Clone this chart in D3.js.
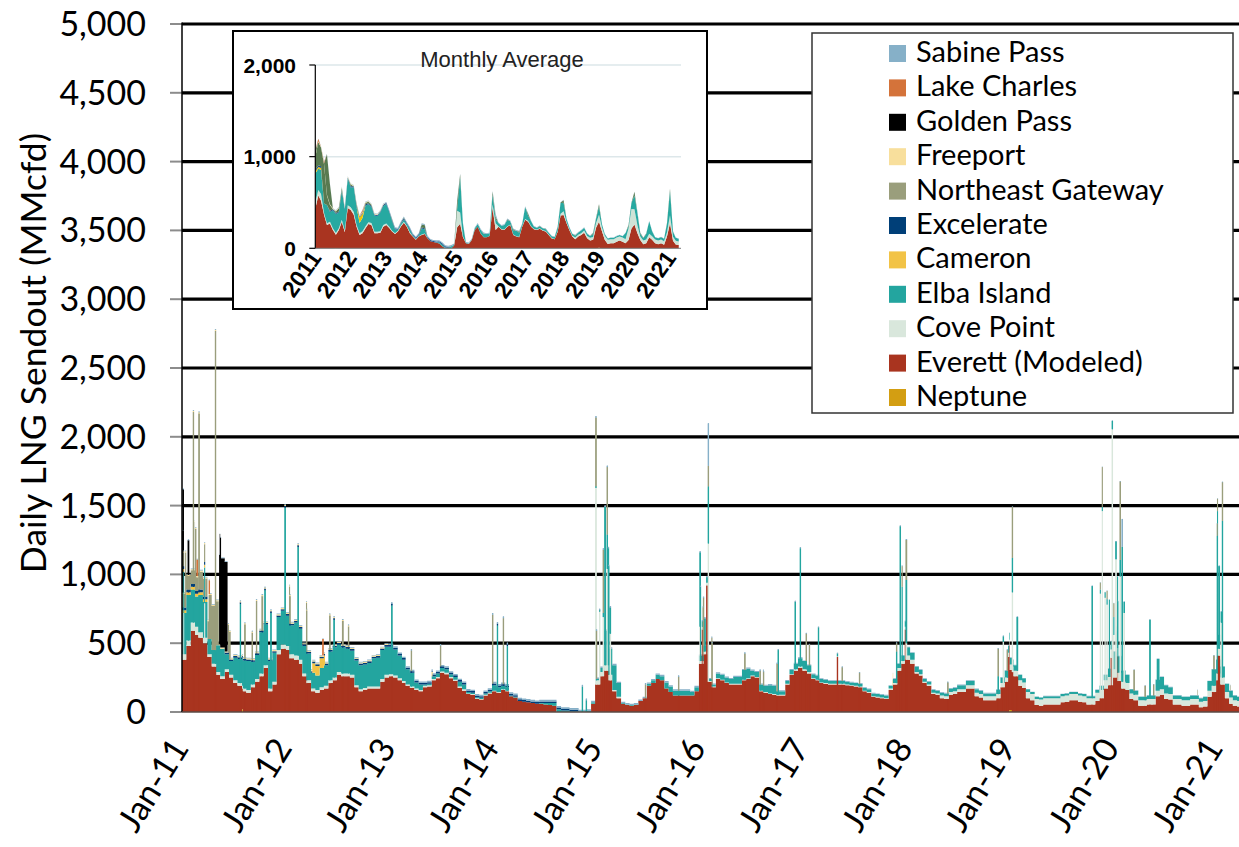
<!DOCTYPE html>
<html>
<head>
<meta charset="utf-8">
<script src="https://cdn.jsdelivr.net/npm/d3@7"></script>
<style>
  body { margin: 0; background: #fff; }
  svg { display: block; }
</style>
</head>
<body>
<svg id="chart" width="1239" height="847"></svg>
<script>
// legend order, top to bottom (stacking is the reverse)
const terminals = ['Sabine Pass', 'Lake Charles', 'Golden Pass', 'Freeport', 'Northeast Gateway',
  'Excelerate', 'Cameron', 'Elba Island', 'Cove Point', 'Everett (Modeled)', 'Neptune']
const terminalColors = ['#86b0c8', '#d4733a', '#000000', '#f8df9c', '#9a9e7c',
  '#003f78', '#f2c346', '#23a59f', '#d9e7dc', '#a9341f', '#d39e12']
const insetColors = ['#8ab4ca', '#d4733a', '#587a50', '#f7e3a3', '#587a50',
  '#1b4f8a', '#f5c400', '#27a9a1', '#cfe3d6', '#a93420', '#d39e12']

// Everett, two values per month (1st-15th, 16th-end), MMcfd
const everettHalf = [
  380,480, 590,560, 540,500, 400,330, 270,240, 290,250, 210,190, 150,140, 180,220, 260,320, 150,200, 420,460, // 2011
  450,390, 380,350, 260,210, 150,140, 160,170, 210,230, 270,260, 260,250, 180,150, 160,170, 170,170, 220,250, // 2012
  260,250, 230,210, 190,175, 160,150, 180,185, 230,245, 285,275, 245,225, 175,155, 130,125, 95,90, 120,135,   // 2013
  150,140, 160,150, 115,105, 80,75, 70,65, 60,60, 55,50, 45,0, 0,0, 0,0, 0,0, 0,60,                           // 2014
  200,260, 300,230, 150,100, 60,50, 45,50, 80,100, 190,210, 240,230, 170,145, 120,120, 120,120, 120,150,      // 2015
  350,420, 220,180, 240,230, 210,200, 200,200, 230,240, 260,250, 150,140, 130,125, 120,120, 200,270, 300,320, // 2016
  300,280, 240,230, 210,205, 200,200, 200,200, 195,190, 185,180, 150,140, 110,105, 100,95, 160,200, 300,350,  // 2017
  380,350, 280,265, 210,190, 130,125, 100,95, 125,130, 145,145, 170,170, 115,105, 85,85, 85,100, 180,220,     // 2018
  290,260, 190,175, 100,85, 50,45, 55,55, 55,55, 70,75, 85,85, 75,70, 55,55, 80,100, 170,195,                 // 2019
  250,225, 170,160, 95,85, 45,45, 55,55, 115,125, 95,90, 55,55, 45,45, 55,55, 35,40, 110,145,                 // 2020
  230,200, 100,60, 45,40, 35,35                                                                               // 2021
]

// Elba Island, two values per month
const elbaHalf = [
  300,330, 240,220, 270,260, 110,100, 195,200, 110,100, 165,175, 205,210, 165,175, 300,295, 200,210, 240,245, // 2011
  220,210, 240,225, 200,195, 115,105, 140,150, 210,220, 200,190, 180,175, 180,175, 170,172, 205,210, 210,205, // 2012
  200,190, 165,155, 110,100, 45,40, 10,10, 20,25, 25,25, 20,20, 35,35, 10,10, 8,8, 10,10,                     // 2013
  40,35, 25,25, 5,5, 0,0, 0,0, 0,5, 10,15, 20,20, 10,10, 5,5, 5,5, 8,10,                                      // 2014
  10,30, 250,190, 180,100, 5,5, 5,5, 0,0, 15,20, 30,30, 45,40, 35,35, 35,35, 25,30,                           // 2015
  40,40, 15,15, 35,35, 35,35, 50,50, 70,70, 35,35, 45,45, 60,60, 25,25, 20,30, 40,60,                         // 2016
  60,50, 30,30, 25,25, 20,20, 20,20, 20,20, 20,20, 20,20, 20,20, 20,20, 20,30, 30,40,                         // 2017
  60,50, 40,30, 20,20, 20,20, 20,20, 25,25, 30,30, 30,30, 25,25, 20,20, 20,30, 40,50,                         // 2018
  50,40, 40,30, 20,15, 15,15, 15,15, 15,15, 15,15, 15,15, 15,15, 15,15, 20,30, 40,60,                         // 2019
  130,120, 80,60, 30,30, 25,25, 25,25, 80,90, 60,50, 25,25, 25,25, 25,25, 25,30, 70,120,                      // 2020
  100,80, 60,50, 35,30, 30,30                                                                                 // 2021
]

// Cove Point, monthly
const covePointMonthly = [
  40,60,40,20,20,20,20,20,20,20,20,30,
  30,30,20,20,20,20,20,20,15,15,15,20,
  15,15,10,10,10,10,10,10,10,5,5,5,
  5,5,0,0,0,0,0,0,0,0,0,0,
  30,40,10,0,0,0,0,0,0,0,0,0,
  20,5,5,5,5,5,5,5,5,5,5,10,
  10,5,5,5,5,5,5,5,5,5,10,20,
  30,10,10,10,20,20,20,25,25,30,30,30,
  40,40,45,45,45,45,45,45,45,45,60,60,
  60,50,40,40,40,40,40,40,40,40,40,45,
  50,45,40,40
]

// Sabine Pass, monthly
const sabineMonthly = [
  5,5,5,5,5,5,5,5,5,5,5,5,
  5,5,5,5,5,5,5,5,5,5,5,5,
  10,10,10,10,10,10,10,10,10,10,10,10,
  12,12,12,12,12,12,12,12,12,12,12,12,
  10,10,10,10,10,10,10,10,10,10,10,10,
  8,8,8,8,8,8,8,8,8,8,8,8,
  5,5,5,5,5,5,5,5,5,5,5,5,
  5,5,5,5,5,5,5,5,5,5,5,5,
  3,3,3,3,3,3,3,3,3,3,3,3,
  3,3,3,3,3,3,3,3,3,3,3,3,
  3,3,3,3
]

// cargo days and short spikes: [start, terminal, MMcfd added, number of days]
const events = [
  ['2011-01-01', 'Northeast Gateway', 100, 58],
  ['2011-01-03', 'Golden Pass', 450, 3],
  ['2011-01-04', 'Cove Point', 300, 3],
  ['2011-01-12', 'Northeast Gateway', 300, 4],
  ['2011-01-22', 'Golden Pass', 250, 3],
  ['2011-01-01', 'Cameron', 20, 90],
  ['2011-01-01', 'Excelerate', 20, 90],
  ['2011-01-01', 'Freeport', 8, 730],
  ['2011-02-09', 'Northeast Gateway', 1150, 2],
  ['2011-02-15', 'Northeast Gateway', 350, 6],
  ['2011-02-21', 'Lake Charles', 120, 6],
  ['2011-03-01', 'Northeast Gateway', 1150, 2],
  ['2011-03-01', 'Northeast Gateway', 130, 35],
  ['2011-03-20', 'Cove Point', 250, 4],
  ['2011-04-05', 'Northeast Gateway', 320, 36],
  ['2011-04-05', 'Lake Charles', 100, 5],
  ['2011-04-28', 'Northeast Gateway', 2000, 2],
  ['2011-05-12', 'Golden Pass', 650, 30],
  ['2011-05-14', 'Golden Pass', 150, 5],
  ['2011-06-01', 'Excelerate', 12, 1250],
  ['2011-06-12', 'Northeast Gateway', 200, 10],
  ['2011-07-25', 'Elba Island', 400, 2],
  ['2011-08-01', 'Neptune', 20, 3],
  ['2011-08-10', 'Northeast Gateway', 250, 2],
  ['2011-09-05', 'Northeast Gateway', 200, 2],
  ['2011-09-20', 'Northeast Gateway', 380, 2],
  ['2011-10-10', 'Northeast Gateway', 250, 3],
  ['2011-10-20', 'Elba Island', 250, 2],
  ['2011-11-10', 'Elba Island', 350, 2],
  ['2011-12-30', 'Elba Island', 750, 2],
  ['2012-01-15', 'Northeast Gateway', 200, 3],
  ['2012-02-14', 'Elba Island', 550, 2],
  ['2012-03-15', 'Northeast Gateway', 300, 2],
  ['2012-04-05', 'Cameron', 70, 45],
  ['2012-05-10', 'Lake Charles', 120, 6],
  ['2012-06-05', 'Northeast Gateway', 250, 2],
  ['2012-06-20', 'Elba Island', 200, 2],
  ['2012-07-20', 'Northeast Gateway', 180, 3],
  ['2012-08-10', 'Northeast Gateway', 150, 2],
  ['2013-01-10', 'Elba Island', 300, 2],
  ['2013-03-20', 'Northeast Gateway', 150, 2],
  ['2013-06-01', 'Cameron', 30, 3],
  ['2013-07-01', 'Northeast Gateway', 150, 2],
  ['2014-01-01', 'Northeast Gateway', 500, 2],
  ['2014-01-18', 'Elba Island', 450, 2],
  ['2014-02-08', 'Northeast Gateway', 480, 2],
  ['2014-02-22', 'Elba Island', 300, 2],
  ['2014-11-14', 'Elba Island', 180, 2],
  ['2014-11-28', 'Elba Island', 80, 2],
  ['2015-01-01', 'Cove Point', 1400, 2],
  ['2015-01-01', 'Northeast Gateway', 500, 2],
  ['2015-01-03', 'Northeast Gateway', 350, 2],
  ['2015-01-14', 'Cove Point', 500, 2],
  ['2015-01-27', 'Cove Point', 400, 2],
  ['2015-01-27', 'Northeast Gateway', 460, 2],
  ['2015-02-02', 'Elba Island', 900, 3],
  ['2015-02-10', 'Cove Point', 700, 2],
  ['2015-02-10', 'Northeast Gateway', 490, 2],
  ['2015-02-14', 'Elba Island', 600, 3],
  ['2015-02-20', 'Cove Point', 300, 3],
  ['2015-06-25', 'Northeast Gateway', 100, 2],
  ['2015-10-20', 'Northeast Gateway', 100, 2],
  ['2016-01-04', 'Elba Island', 500, 3],
  ['2016-01-04', 'Cove Point', 250, 2],
  ['2016-01-12', 'Everett (Modeled)', 250, 3],
  ['2016-01-15', 'Northeast Gateway', 350, 3],
  ['2016-01-20', 'Elba Island', 200, 3],
  ['2016-01-28', 'Everett (Modeled)', 500, 2],
  ['2016-02-02', 'Cove Point', 1000, 2],
  ['2016-02-02', 'Elba Island', 400, 2],
  ['2016-02-02', 'Northeast Gateway', 150, 2],
  ['2016-02-02', 'Sabine Pass', 300, 2],
  ['2016-02-15', 'Northeast Gateway', 300, 2],
  ['2016-06-10', 'Northeast Gateway', 120, 2],
  ['2016-08-03', 'Northeast Gateway', 100, 2],
  ['2016-08-15', 'Northeast Gateway', 100, 2],
  ['2016-10-02', 'Northeast Gateway', 200, 2],
  ['2016-10-06', 'Elba Island', 300, 2],
  ['2016-12-05', 'Elba Island', 450, 2],
  ['2016-12-23', 'Elba Island', 800, 2],
  ['2017-01-13', 'Northeast Gateway', 200, 2],
  ['2017-01-24', 'Northeast Gateway', 150, 2],
  ['2017-02-25', 'Elba Island', 350, 2],
  ['2017-05-03', 'Everett (Modeled)', 200, 2],
  ['2017-05-20', 'Northeast Gateway', 100, 2],
  ['2017-07-20', 'Northeast Gateway', 80, 2],
  ['2017-11-15', 'Cameron', 40, 2],
  ['2017-11-28', 'Elba Island', 200, 2],
  ['2017-11-28', 'Northeast Gateway', 60, 2],
  ['2017-12-11', 'Elba Island', 1000, 2],
  ['2017-12-18', 'Elba Island', 500, 1],
  ['2017-12-18', 'Northeast Gateway', 150, 1],
  ['2017-12-28', 'Everett (Modeled)', 250, 4],
  ['2018-01-01', 'Elba Island', 400, 3],
  ['2018-01-01', 'Cove Point', 90, 3],
  ['2018-01-01', 'Northeast Gateway', 290, 3],
  ['2018-05-28', 'Northeast Gateway', 80, 2],
  ['2018-11-22', 'Elba Island', 100, 2],
  ['2018-11-22', 'Northeast Gateway', 200, 2],
  ['2018-12-10', 'Cove Point', 300, 2],
  ['2018-12-24', 'Northeast Gateway', 150, 2],
  ['2018-12-28', 'Everett (Modeled)', 180, 6],
  ['2019-01-01', 'Neptune', 15, 10],
  ['2019-01-11', 'Elba Island', 200, 2],
  ['2019-01-11', 'Cove Point', 540, 2],
  ['2019-01-11', 'Northeast Gateway', 370, 2],
  ['2019-01-28', 'Elba Island', 350, 3],
  ['2019-10-20', 'Elba Island', 800, 2],
  ['2019-11-18', 'Cove Point', 700, 1],
  ['2019-11-18', 'Northeast Gateway', 50, 1],
  ['2019-11-25', 'Cove Point', 1300, 1],
  ['2019-11-25', 'Northeast Gateway', 290, 1],
  ['2019-12-05', 'Cove Point', 600, 1],
  ['2019-12-12', 'Cove Point', 550, 1],
  ['2019-12-12', 'Northeast Gateway', 60, 1],
  ['2019-12-20', 'Elba Island', 500, 1],
  ['2019-12-25', 'Everett (Modeled)', 200, 5],
  ['2019-12-30', 'Cove Point', 1800, 2],
  ['2020-01-05', 'Cove Point', 250, 1],
  ['2020-01-05', 'Northeast Gateway', 100, 1],
  ['2020-01-12', 'Cove Point', 800, 2],
  ['2020-01-15', 'Everett (Modeled)', 180, 4],
  ['2020-01-18', 'Elba Island', 400, 2],
  ['2020-01-27', 'Cove Point', 700, 2],
  ['2020-01-27', 'Northeast Gateway', 570, 2],
  ['2020-02-03', 'Elba Island', 900, 2],
  ['2020-02-03', 'Sabine Pass', 200, 2],
  ['2020-02-10', 'Cove Point', 500, 2],
  ['2020-03-16', 'Northeast Gateway', 150, 2],
  ['2020-04-24', 'Northeast Gateway', 80, 2],
  ['2020-05-11', 'Elba Island', 550, 2],
  ['2020-05-24', 'Northeast Gateway', 80, 2],
  ['2020-06-05', 'Elba Island', 150, 10],
  ['2020-10-27', 'Northeast Gateway', 40, 2],
  ['2020-12-23', 'Northeast Gateway', 100, 2],
  ['2021-01-04', 'Elba Island', 900, 2],
  ['2021-01-04', 'Northeast Gateway', 90, 2],
  ['2021-01-05', 'Everett (Modeled)', 180, 10],
  ['2021-01-10', 'Elba Island', 500, 3],
  ['2021-01-18', 'Cove Point', 400, 3],
  ['2021-01-22', 'Elba Island', 1060, 2],
  ['2021-01-22', 'Northeast Gateway', 280, 2],
  ['2021-02-19', 'Northeast Gateway', 40, 2]
]

const yTicks = [0, 500, 1000, 1500, 2000, 2500, 3000, 3500, 4000, 4500, 5000]
const xTickYears = [2011, 2012, 2013, 2014, 2015, 2016, 2017, 2018, 2019, 2020, 2021]
const insetYTicks = [0, 1000, 2000]

// ---------------------------------------------------------------
const svg = d3.select('#chart')
const width = 1239
const margin = {top: 24, left: 182, bottom: 712}
const t0 = new Date(Date.UTC(2011, 0, 1))
const t1 = new Date(Date.UTC(2021, 4, 1))
const pxPerDay = 103.4 / 365.25

// daily table
const days = d3.utcDay.range(t0, t1)
const rows = days.map(d => {
  const m = (d.getUTCFullYear() - 2011) * 12 + d.getUTCMonth()
  const h = d.getUTCDate() <= 15 ? 0 : 1
  const r = {date: d}
  terminals.forEach(k => r[k] = 0)
  r['Everett (Modeled)'] = everettHalf[m * 2 + h]
  r['Elba Island'] = elbaHalf[m * 2 + h]
  r['Cove Point'] = covePointMonthly[m]
  r['Sabine Pass'] = sabineMonthly[m]
  return r
})
const spikeDays = new Set()
events.forEach(([d, k, v, n]) => {
  const i = Math.round((Date.parse(d) - t0) / 864e5)
  for (let j = 0; j < n; j++) {
    if (!rows[i + j]) continue
    rows[i + j][k] += v
    if (n <= 3 && v >= 80) spikeDays.add(i + j)
  }
})

const stackKeys = terminals.slice().reverse()
const color = d3.scaleOrdinal().domain(terminals).range(terminalColors)
const insetColor = d3.scaleOrdinal().domain(terminals).range(insetColors)

const x = d3.scaleUtc().domain([t0, t1]).range([margin.left, margin.left + days.length * pxPerDay])
const y = d3.scaleLinear().domain([0, 5000]).range([margin.bottom, margin.top])

// gridlines
svg.append('g').selectAll('line').data(yTicks.filter(v => v > 0))
  .enter().append('line')
    .attr('x1', margin.left).attr('x2', width)
    .attr('y1', d => y(d)).attr('y2', d => y(d))
    .attr('stroke', '#000').attr('stroke-width', 3.2)

svg.append('clipPath').attr('id', 'plotclip')
  .append('rect').attr('x', margin.left).attr('y', 0)
  .attr('width', width - margin.left).attr('height', margin.bottom)

const plot = svg.append('g').attr('clip-path', 'url(#plotclip)')
const stacked = d3.stack().keys(stackKeys)(rows)
const area = d3.area()
  .x(d => x(d.data.date))
  .y0(d => y(d[0]))
  .y1(d => y(d[1]))
  .curve(d3.curveStepAfter)
plot.selectAll('path').data(stacked)
  .enter().append('path')
    .attr('fill', d => color(d.key))
    .attr('d', area)

// one-day cargoes are narrower than a pixel: draw those days as 1px columns
const spikeSegs = []
stacked.forEach(layer => {
  spikeDays.forEach(i => {
    const s = layer[i]
    if (s[1] - s[0] > 0) spikeSegs.push({key: layer.key, date: s.data.date, y0: s[0], y1: s[1]})
  })
})
plot.selectAll('rect.spike').data(spikeSegs)
  .enter().append('rect')
    .attr('class', 'spike')
    .attr('x', d => x(d.date) - 0.3)
    .attr('width', 1.1)
    .attr('y', d => y(d.y1))
    .attr('height', d => y(d.y0) - y(d.y1))
    .attr('fill', d => color(d.key))

// axes
const axis = svg.append('g')
axis.selectAll('line.tick').data(yTicks)
  .enter().append('line')
    .attr('x1', 170).attr('x2', margin.left)
    .attr('y1', d => y(d)).attr('y2', d => y(d))
    .attr('stroke', '#8c8c8c').attr('stroke-width', 2)
axis.append('line')
  .attr('x1', margin.left).attr('x2', margin.left)
  .attr('y1', margin.top - 1.5).attr('y2', margin.bottom)
  .attr('stroke', '#000').attr('stroke-width', 1.5)
axis.append('line')
  .attr('x1', margin.left).attr('x2', width)
  .attr('y1', margin.bottom).attr('y2', margin.bottom)
  .attr('stroke', '#5a4a45').attr('stroke-width', 1.5)
axis.selectAll('text.ylab').data(yTicks)
  .enter().append('text')
    .attr('x', 146).attr('y', d => y(d)).attr('dy', '0.35em')
    .attr('text-anchor', 'end')
    .style('font-family', 'Lato, sans-serif').style('font-size', '34px').attr('fill', '#000')
    .text(d => d3.format(',')(d))
axis.selectAll('text.xlab').data(xTickYears)
  .enter().append('text')
    .attr('text-anchor', 'end')
    .attr('transform', d => `translate(${x(new Date(Date.UTC(d, 0, 1))) + 8},${748}) rotate(-58)`)
    .style('font-family', 'Lato, sans-serif').style('font-size', '34px').attr('fill', '#000')
    .text(d => `Jan-${String(d).slice(2)}`)
svg.append('text')
  .attr('transform', 'translate(46,353) rotate(-90)')
  .attr('text-anchor', 'middle')
  .style('font-family', 'Lato, sans-serif').style('font-size', '35.5px').attr('fill', '#000')
  .text('Daily LNG Sendout (MMcfd)')

// ---------------- inset: monthly average ----------------
const months = d3.utcMonth.range(t0, t1)
const monthly = months.map(m => {
  const next = d3.utcMonth.offset(m, 1)
  const sub = rows.filter(r => r.date >= m && r.date < next)
  const o = {date: m}
  terminals.forEach(k => o[k] = d3.mean(sub, r => r[k]))
  return o
})

const inset = {x0: 233, y0: 31, x1: 707, y1: 309, left: 315.3, right: 681, top: 65, bottom: 248.3}
const g2 = svg.append('g')
g2.append('rect')
  .attr('x', inset.x0).attr('y', inset.y0)
  .attr('width', inset.x1 - inset.x0).attr('height', inset.y1 - inset.y0)
  .attr('fill', '#fff').attr('stroke', '#000').attr('stroke-width', 2)

const xi = d3.scaleUtc()
  .domain([t0, new Date(Date.UTC(2021, 0, 1))])
  .range([inset.left, 670])
const yi = d3.scaleLinear().domain([0, 2000]).range([inset.bottom, inset.top])

g2.selectAll('line.grid').data(insetYTicks.filter(v => v > 0))
  .enter().append('line')
    .attr('x1', inset.left).attr('x2', inset.right)
    .attr('y1', d => yi(d)).attr('y2', d => yi(d))
    .attr('stroke', '#dde7ea').attr('stroke-width', 1.5)

const stackedM = d3.stack().keys(stackKeys)(monthly)
const areaM = d3.area()
  .x(d => xi(d.data.date))
  .y0(d => yi(d[0]))
  .y1(d => yi(d[1]))
g2.selectAll('path.m').data(stackedM)
  .enter().append('path')
    .attr('fill', d => insetColor(d.key))
    .attr('d', areaM)

g2.append('line')
  .attr('x1', inset.left).attr('x2', inset.left)
  .attr('y1', inset.top).attr('y2', inset.bottom)
  .attr('stroke', '#000').attr('stroke-width', 1.2)
g2.append('line')
  .attr('x1', inset.left).attr('x2', inset.right)
  .attr('y1', inset.bottom).attr('y2', inset.bottom)
  .attr('stroke', '#777').attr('stroke-width', 1)
g2.selectAll('line.tk').data(insetYTicks)
  .enter().append('line')
    .attr('x1', inset.left - 6).attr('x2', inset.left)
    .attr('y1', d => yi(d)).attr('y2', d => yi(d))
    .attr('stroke', '#000').attr('stroke-width', 1.2)
g2.selectAll('text.yl').data(insetYTicks)
  .enter().append('text')
    .attr('x', 296).attr('y', d => yi(d)).attr('dy', '0.36em')
    .attr('text-anchor', 'end')
    .style('font-family', '"Liberation Sans", Arial, sans-serif').style('font-size', '21px')
    .style('font-weight', 'bold').attr('fill', '#000')
    .text(d => d3.format(',')(d))
g2.selectAll('text.xl').data(xTickYears)
  .enter().append('text')
    .attr('text-anchor', 'end')
    .attr('transform', d => `translate(${xi(new Date(Date.UTC(d, 0, 1))) + 7},${258}) rotate(-55)`)
    .style('font-family', '"Liberation Sans", Arial, sans-serif').style('font-size', '23px')
    .style('font-weight', 'bold').attr('fill', '#000')
    .text(d => d)
g2.append('text')
  .attr('x', 502).attr('y', 67)
  .attr('text-anchor', 'middle')
  .style('font-family', '"Liberation Sans", Arial, sans-serif').style('font-size', '22px')
  .attr('fill', '#222')
  .text('Monthly Average')

// ---------------- legend ----------------
const lg = svg.append('g')
lg.append('rect')
  .attr('x', 812).attr('y', 33).attr('width', 421).attr('height', 380)
  .attr('fill', '#fff').attr('stroke', '#333').attr('stroke-width', 1.5)
const item = lg.selectAll('g.item').data(terminals)
  .enter().append('g')
    .attr('transform', (d, i) => `translate(889,${45 + i * 34.4})`)
item.append('rect')
  .attr('width', 17).attr('height', 17)
  .attr('fill', d => color(d))
item.append('text')
  .attr('x', 27).attr('y', 17)
  .style('font-family', 'Lato, sans-serif').style('font-size', '29px').attr('fill', '#000')
  .text(d => d)
</script>
</body>
</html>
